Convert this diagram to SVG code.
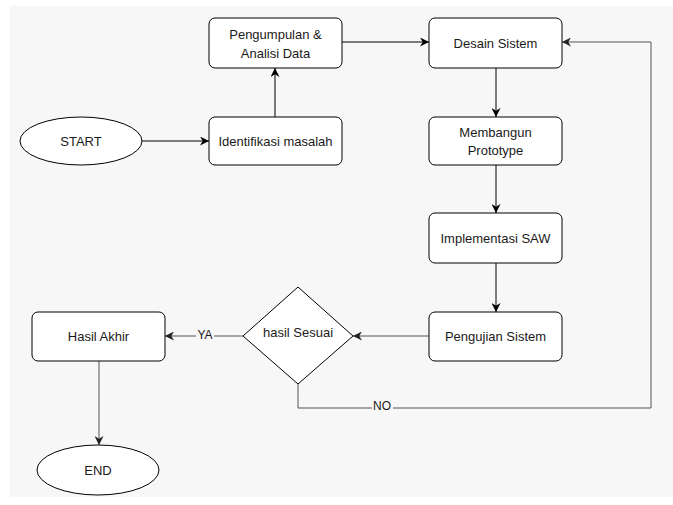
<svg xmlns="http://www.w3.org/2000/svg" width="673" height="505" viewBox="0 0 673 505">
  <style>
    .box { fill: #ffffff; stroke: #000000; stroke-width: 1; }
    .lbl { font-family: "Liberation Sans", Arial, sans-serif; font-size: 13px; fill: #1a1a1a; text-anchor: middle; dominant-baseline: central; }
    .edge { fill: none; stroke: #000000; stroke-width: 1; }
    .edge2 { fill: none; stroke: #555555; stroke-width: 1; }
    .elbl { font-family: "Liberation Sans", Arial, sans-serif; font-size: 12px; fill: #1a1a1a; text-anchor: middle; dominant-baseline: central; }
  </style>
  <defs>
    <marker id="arr" viewBox="0 0 10 10" refX="10" refY="5" markerWidth="9" markerHeight="9" markerUnits="userSpaceOnUse" orient="auto">
      <path d="M0,0 L10,5 L0,10 L3,5 z" fill="#000000"/>
    </marker>
    <marker id="arr2" viewBox="0 0 10 10" refX="10" refY="5" markerWidth="9" markerHeight="9" markerUnits="userSpaceOnUse" orient="auto">
      <path d="M0,0 L10,5 L0,10 L3,5 z" fill="#222222"/>
    </marker>
  </defs>
  <rect x="0" y="0" width="673" height="505" fill="#ffffff"/>
  <rect x="10" y="6" width="663" height="491" fill="#f7f7f7"/>

  <g id="connectors">
    <path class="edge" d="M142,141 H209" marker-end="url(#arr)"/>
    <path class="edge" d="M275,117 V68" marker-end="url(#arr)"/>
    <path class="edge" d="M342,42 H429" marker-end="url(#arr)"/>
    <path class="edge" d="M496,68 V117" marker-end="url(#arr)"/>
    <path class="edge" d="M496,165 V213" marker-end="url(#arr)"/>
    <path class="edge" d="M496,263 V312" marker-end="url(#arr)"/>
    <path class="edge2" d="M429,336 H353" marker-end="url(#arr2)"/>
    <path class="edge2" d="M243,336 H165" marker-end="url(#arr2)"/>
    <path class="edge2" d="M99,361 V445" marker-end="url(#arr2)"/>
    <path class="edge2" d="M298,384 V408 H651 V42 H562" marker-end="url(#arr2)"/>
    <rect x="196" y="329" width="18" height="13" fill="#f7f7f7"/>
    <text class="elbl" x="205" y="335">YA</text>
    <rect x="372" y="400" width="21" height="13" fill="#f7f7f7"/>
    <text class="elbl" x="382" y="406">NO</text>
  </g>

  <g id="start">
    <ellipse class="box" cx="81" cy="141" rx="61" ry="24"/>
    <text class="lbl" x="81" y="141">START</text>
  </g>
  <g id="identifikasi">
    <rect class="box" x="209" y="117" width="133" height="48" rx="6"/>
    <text class="lbl" x="275.5" y="141">Identifikasi masalah</text>
  </g>
  <g id="pengumpulan">
    <rect class="box" x="209" y="18" width="133" height="50" rx="6"/>
    <text class="lbl" x="275.5" y="34">Pengumpulan &amp;</text>
    <text class="lbl" x="275.5" y="53">Analisi Data</text>
  </g>
  <g id="desain">
    <rect class="box" x="429" y="18" width="133" height="50" rx="6"/>
    <text class="lbl" x="495.5" y="43">Desain Sistem</text>
  </g>
  <g id="membangun">
    <rect class="box" x="429" y="117" width="133" height="48" rx="6"/>
    <text class="lbl" x="495.5" y="132">Membangun</text>
    <text class="lbl" x="495.5" y="150">Prototype</text>
  </g>
  <g id="implementasi">
    <rect class="box" x="429" y="213" width="133" height="50" rx="6"/>
    <text class="lbl" x="495.5" y="238">Implementasi SAW</text>
  </g>
  <g id="pengujian">
    <rect class="box" x="429" y="312" width="133" height="49" rx="6"/>
    <text class="lbl" x="495.5" y="336">Pengujian Sistem</text>
  </g>
  <g id="decision">
    <polygon class="box" points="298,287 353,336 298,384 243,336"/>
    <text class="lbl" x="298" y="332">hasil Sesuai</text>
  </g>
  <g id="hasil">
    <rect class="box" x="32" y="312" width="133" height="49" rx="6"/>
    <text class="lbl" x="98.5" y="336">Hasil Akhir</text>
  </g>
  <g id="end">
    <ellipse class="box" cx="98" cy="470" rx="61" ry="25"/>
    <text class="lbl" x="98" y="470">END</text>
  </g>
</svg>
